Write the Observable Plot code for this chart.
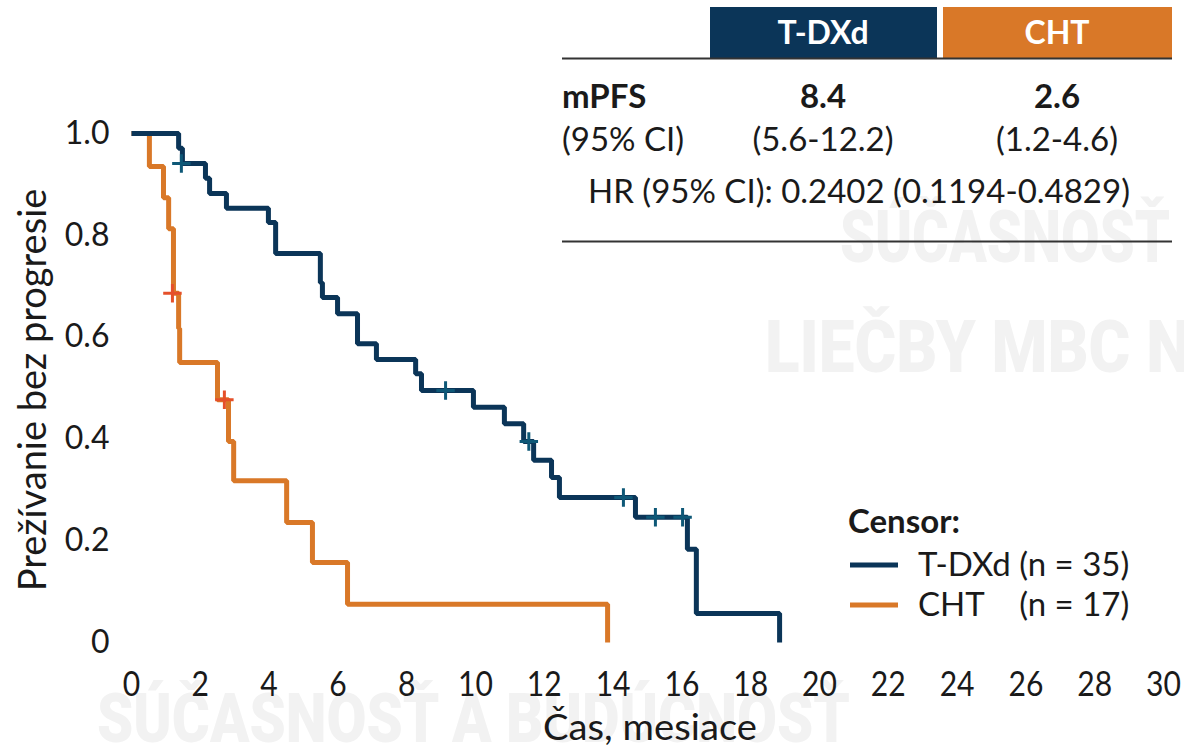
<!DOCTYPE html>
<html>
<head>
<meta charset="utf-8">
<script src="https://cdn.jsdelivr.net/npm/d3@7"></script>
<script src="https://cdn.jsdelivr.net/npm/@observablehq/plot@0.6"></script>
<style>
  html, body { margin: 0; padding: 0; background: #fff; }
  #chart svg { display: block; }
</style>
</head>
<body>
<div id="chart"></div>
<script>
// ---- Data ----
const tdxdTime = [0, 1.37, 1.48, 2.15, 2.27, 2.76, 3.98, 4.19, 5.49, 5.55, 5.99, 6.57, 7.12, 8.26, 8.43, 9.94, 10.84, 11.40, 11.69, 12.21, 12.44, 14.65, 16.16, 16.42, 18.84];
const tdxdSurv = [1.0, 0.971, 0.941, 0.912, 0.882, 0.853, 0.825, 0.764, 0.707, 0.678, 0.646, 0.587, 0.556, 0.528, 0.495, 0.462, 0.430, 0.395, 0.358, 0.324, 0.285, 0.246, 0.183, 0.057, 0];
const tdxdCensorTime = [1.45, 9.13, 11.55, 14.30, 15.23, 16.02];
const tdxdCensorSurv = [0.941, 0.495, 0.395, 0.285, 0.246, 0.246];

const chtTime = [0, 0.52, 0.93, 1.08, 1.22, 1.37, 1.40, 2.50, 2.82, 2.97, 4.51, 5.26, 6.28, 13.84];
const chtSurv = [1.0, 0.935, 0.874, 0.813, 0.686, 0.617, 0.550, 0.477, 0.395, 0.318, 0.236, 0.157, 0.075, 0];
const chtCensorTime = [1.19, 2.70];
const chtCensorSurv = [0.686, 0.477];

const xTicks = [0, 2, 4, 6, 8, 10, 12, 14, 16, 18, 20, 22, 24, 26, 28, 30];
const yTicks = [0, 0.2, 0.4, 0.6, 0.8, 1.0];
const yTickLabels = ["0", "0.2", "0.4", "0.6", "0.8", "1.0"];

const groups = ["T-DXd", "CHT"];
const groupN = [35, 17];
const mPFS = ["8.4", "2.6"];
const mPFSci = ["(5.6-12.2)", "(1.2-4.6)"];
const hrText = "HR (95% CI): 0.2402 (0.1194-0.4829)";
const xLabel = "Čas, mesiace";
const yLabel = "Prežívanie bez progresie";
const watermarks = ["SÚČASNOSŤ", "LIEČBY MBC NA", "SÚČASNOSŤ A BUDÚCNOSŤ"];

// ---- Colors ----
const blue = "#0b3558";
const orange = "#d97828";
const blueCensor = "#0e5877";
const orangeCensor = "#e5502a";
const ink = "#1a1a1a";

const tdxd = tdxdTime.map((t, i) => ({t, s: tdxdSurv[i]}));
const cht = chtTime.map((t, i) => ({t, s: chtSurv[i]}));
const tdxdC = tdxdCensorTime.map((t, i) => ({t, s: tdxdCensorSurv[i]}));
const chtC = chtCensorTime.map((t, i) => ({t, s: chtCensorSurv[i]}));

const W = 1184, H = 751;
const chart = Plot.plot({
  width: W,
  height: H,
  marginLeft: 131,
  marginRight: 21,
  marginTop: 133,
  marginBottom: 109,
  style: {fontFamily: "Lato, sans-serif", color: ink, background: "#fff"},
  x: {domain: [0, 30]},
  y: {domain: [0, 1]},
  marks: [
    Plot.axisY({ticks: yTicks, tickFormat: d => yTickLabels[yTicks.indexOf(d)], tickSize: 0, tickPadding: 22, fontSize: 32, label: null, fill: ink}),
    Plot.axisX({ticks: xTicks, tickSize: 0, tickPadding: 29, fontSize: 35, label: null, fill: ink}),
    Plot.line(cht, {x: "t", y: "s", curve: "step-after", stroke: orange, strokeWidth: 5, strokeLinejoin: "miter", strokeLinecap: "butt"}),
    Plot.line(tdxd, {x: "t", y: "s", curve: "step-after", stroke: blue, strokeWidth: 5, strokeLinejoin: "miter", strokeLinecap: "butt"}),
    Plot.dot(chtC, {x: "t", y: "s", symbol: "plus", r: 6, stroke: orangeCensor, strokeWidth: 3}),
    Plot.dot(tdxdC, {x: "t", y: "s", symbol: "plus", r: 6, stroke: blueCensor, strokeWidth: 3})
  ]
});

document.getElementById("chart").appendChild(chart);

const svg = d3.select(chart);

// narrow the x tick labels (reference uses a condensed face)
svg.selectAll('g[aria-label="x-axis tick label"] text').each(function() {
  const tr = this.getAttribute("transform");
  if (tr) this.setAttribute("transform", tr + " scale(0.86,1)");
});

// helper: squeeze a text horizontally to a target width
function fitWidth(sel, x, y, target, anchor) {
  const node = sel.node();
  const len = node.getComputedTextLength();
  const k = target / len;
  sel.attr("x", null).attr("y", null)
    .attr("text-anchor", anchor || "start")
    .attr("transform", `translate(${x},${y}) scale(${k},1)`);
}

// ---- watermarks (under everything) ----
const wm = svg.insert("g", ":first-child")
  .attr("font-family", "Roboto, Lato, sans-serif")
  .attr("font-weight", 900)
  .attr("fill", "#f2f2f2")
  .attr("text-anchor", "start");
svg.insert("rect", ":first-child").attr("width", W).attr("height", H).attr("fill", "#fff");
const wm1 = wm.append("text").attr("font-size", 72).text(watermarks[0]);
fitWidth(wm1, 840, 262, 330);
const wm2 = wm.append("text").attr("font-size", 72).text(watermarks[1]);
fitWidth(wm2, 765, 372, 470);
const wm3 = wm.append("text").attr("font-size", 68).text(watermarks[2]);
fitWidth(wm3, 97, 742, 753);

// ---- annotations ----
const g = svg.append("g").attr("font-family", "Lato, sans-serif").attr("fill", ink).attr("text-anchor", "start");

// axis labels
g.append("text")
  .attr("transform", "translate(46,390) rotate(-90)")
  .attr("text-anchor", "middle")
  .attr("font-size", 38)
  .text(yLabel);
const xl = g.append("text").attr("font-size", 36).text(xLabel);
fitWidth(xl, 650, 740, 214, "middle");

// table header
const colX = [823, 1057];
const boxX = [710, 943];
const boxW = [227, 229];
const boxFill = [blue, orange];
groups.forEach((name, i) => {
  g.append("rect").attr("x", boxX[i]).attr("y", 7).attr("width", boxW[i]).attr("height", 51).attr("fill", boxFill[i]);
  g.append("text").attr("x", colX[i]).attr("y", 44).attr("text-anchor", "middle")
    .attr("font-size", 32).attr("font-weight", "bold").attr("fill", "#fff").text(name);
  g.append("text").attr("x", colX[i]).attr("y", 108).attr("text-anchor", "middle")
    .attr("font-size", 33).attr("font-weight", "bold").text(mPFS[i]);
  g.append("text").attr("x", colX[i]).attr("y", 151).attr("text-anchor", "middle")
    .attr("font-size", 33).text(mPFSci[i]);
});
g.append("line").attr("x1", 562).attr("x2", 1172).attr("y1", 58.5).attr("y2", 58.5).attr("stroke", "#333").attr("stroke-width", 2);
g.append("text").attr("x", 562).attr("y", 108).attr("font-size", 33).attr("font-weight", "bold").text("mPFS");
g.append("text").attr("x", 562).attr("y", 151).attr("font-size", 33).text("(95% CI)");
g.append("text").attr("x", 859).attr("y", 203).attr("text-anchor", "middle").attr("font-size", 33).text(hrText);
g.append("line").attr("x1", 562).attr("x2", 1172).attr("y1", 241.5).attr("y2", 241.5).attr("stroke", "#333").attr("stroke-width", 2);

// legend
g.append("text").attr("x", 848).attr("y", 533).attr("font-size", 33).attr("font-weight", "bold").text("Censor:");
const legY = [565, 605];
const legCol = [blue, orange];
groups.forEach((name, i) => {
  g.append("line").attr("x1", 850).attr("x2", 898).attr("y1", legY[i]).attr("y2", legY[i])
    .attr("stroke", legCol[i]).attr("stroke-width", 5);
});
const l1 = g.append("text").attr("x", 918).attr("y", legY[0] + 11).attr("font-size", 33).text(`${groups[0]} (n = ${groupN[0]})`);
const prefix = g.append("text").attr("font-size", 33).attr("visibility", "hidden").text(`${groups[0]} `);
const nX = 918 + prefix.node().getComputedTextLength();
prefix.remove();
g.append("text").attr("x", 918).attr("y", legY[1] + 11).attr("font-size", 33).text(groups[1]);
g.append("text").attr("x", nX).attr("y", legY[1] + 11).attr("font-size", 33).text(`(n = ${groupN[1]})`);
</script>
</body>
</html>
